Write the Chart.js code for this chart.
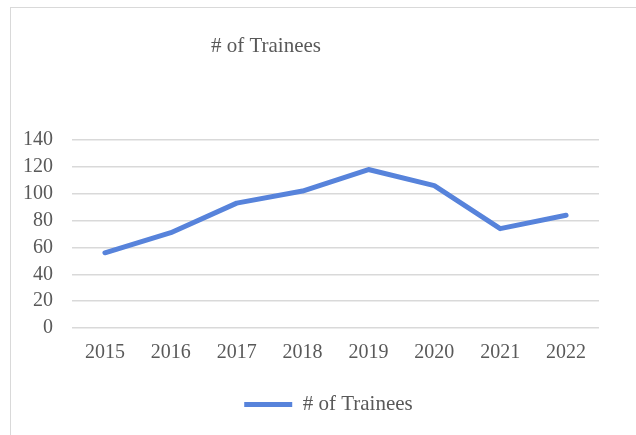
<!DOCTYPE html>
<html>
<head>
<meta charset="utf-8">
<script src="https://cdn.jsdelivr.net/npm/chart.js@4.4.1/dist/chart.umd.min.js"></script>
<style>
  html, body { margin: 0; padding: 0; background: #fff; overflow: hidden; }
  #frame { position: absolute; left: 10px; top: 7px; width: 700px; height: 500px; border: 1px solid #d9d9d9; }
  #wrap { position: absolute; left: 0; top: 0; width: 636px; height: 435px; }
</style>
</head>
<body>
<div id="frame"></div>
<div id="wrap"><canvas id="chart"></canvas></div>
<script>
const chartTitle = '# of Trainees';
const years = ['2015', '2016', '2017', '2018', '2019', '2020', '2021', '2022'];
const trainees = [56, 71, 93, 102, 118, 106, 74, 84];

const textColor = '#595959';
const serif = "'Liberation Serif', 'Times New Roman', serif";

// title and legend are not centred on the plot in the original,
// so slide the boxes sideways once the layout is done
function slide(box, dx) {
  if (!box) return;
  box.left += dx;
  box.right += dx;
}
const nudgePlugin = {
  id: 'nudge',
  afterLayout(chart) {
    slide(chart.titleBlock, -35.5);
    slide(chart.legend, 27);
  }
};

const ctx = document.getElementById('chart').getContext('2d');
new Chart(ctx, {
  type: 'line',
  data: {
    labels: years,
    datasets: [{
      label: '# of Trainees',
      data: trainees,
      borderColor: '#5783DB',
      backgroundColor: '#5783DB',
      borderWidth: 5,
      borderCapStyle: 'round',
      borderJoinStyle: 'round',
      pointRadius: 0,
      tension: 0,
      fill: false
    }]
  },
  options: {
    responsive: true,
    maintainAspectRatio: false,
    animation: false,
    layout: { padding: { top: 0, left: 4, right: 37, bottom: 10 } },
    plugins: {
      title: {
        display: true,
        text: chartTitle,
        color: textColor,
        font: { family: serif, size: 21, weight: 'normal' },
        padding: { top: 33.4, bottom: 81.4 }
      },
      tooltip: { enabled: false },
      legend: {
        position: 'bottom',
        labels: {
          usePointStyle: true,
          pointStyle: 'line',
          pointStyleWidth: 48,
          padding: 10,
          color: textColor,
          font: { family: serif, size: 21 }
        }
      }
    },
    scales: {
      x: {
        offset: true,
        grid: { display: false, drawTicks: false },
        border: { display: false },
        ticks: {
          color: textColor,
          padding: 13,
          autoSkip: false,
          maxRotation: 0,
          font: { family: serif, size: 20 }
        },
        afterFit(scale) { scale.height += 6; }
      },
      y: {
        min: 0,
        max: 140,
        grid: { color: '#d9d9d9', lineWidth: 1.4, drawTicks: false },
        border: { display: false },
        ticks: {
          stepSize: 20,
          autoSkip: false,
          color: textColor,
          padding: 19,
          font: { family: serif, size: 20 }
        }
      }
    }
  },
  plugins: [nudgePlugin]
});
</script>
</body>
</html>
